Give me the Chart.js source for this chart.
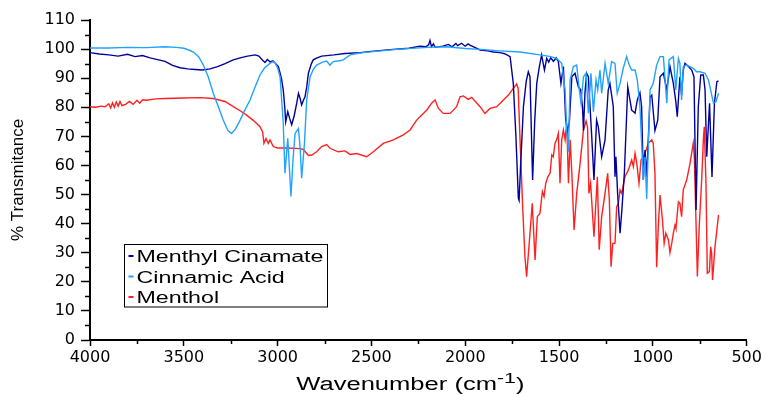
<!DOCTYPE html>
<html>
<head>
<meta charset="utf-8">
<script src="https://cdn.jsdelivr.net/npm/chart.js@4.4.1/dist/chart.umd.min.js"></script>
<style>
html, body { margin: 0; padding: 0; background: #fff; }
</style>
</head>
<body>
<canvas id="irChart" width="766" height="394"></canvas>
<script>
// series: wavenumber (cm-1) and % transmittance
const seriesNames = ['Menthyl Cinamate', 'Cinnamic Acid', 'Menthol'];
const seriesColors = ['#00009c', '#22a2ff', '#ff2020'];

const mcWn = [4000,3950,3900,3850,3800,3760,3720,3680,3640,3600,3560,3520,3480,3440,3400,3360,3320,3280,3240,3200,3160,3120,3100,3080,3067,3055,3040,3025,3010,2996,2980,2970,2962,2957,2946,2935,2925,2912,2898,2889,2880,2872,2862,2854,2845,2836,2820,2810,2790,2765,2700,2641,2560,2500,2400,2300,2241,2210,2195,2188,2180,2170,2160,2120,2090,2070,2050,2040,2020,2000,1985,1975,1950,1921,1880,1850,1815,1790,1761,1744,1730,1717,1713,1705,1690,1675,1664,1655,1641,1630,1619,1605,1593,1578,1566,1555,1545,1530,1515,1504,1490,1477,1465,1456,1445,1432,1415,1397,1385,1375,1370,1362,1353,1344,1326,1314,1300,1291,1273,1255,1238,1229,1211,1202,1197,1188,1175,1165,1152,1134,1113,1095,1083,1069,1060,1051,1042,1033,1015,1006,989,974,962,944,926,909,891,878,870,856,847,838,829,811,793,781,770,758,745,731,722,713,698,685,672,659,650];
const mcT = [98.8,98.3,98.0,97.6,98.2,97.4,97.8,97.0,96.4,95.8,94.4,93.6,93.2,93.0,92.8,93.2,94.0,95.0,96.2,97.0,97.6,98.0,97.6,96.2,95.4,96.4,95.6,96.0,95.0,94.0,90,86,80,75,78.5,76,74,77,81.5,84.8,83,80.8,82.5,83.6,87,91.7,95,96.3,97.0,97.6,98.0,98.5,98.8,99.2,99.8,100.3,101,100.8,101.5,103,100.8,101.8,100.6,101.0,101.6,100.8,101.9,101.2,102.0,101.0,101.8,101.4,100.6,99.7,99.4,99.0,98.8,98.4,97.4,88.2,70,48.7,48,60,80.2,89,92.2,90.5,55,75,88.2,94,98,92.8,96.8,95.5,97,95.8,97,95.7,88.2,94,76,71.5,75,90.5,91.7,87,86,80,72,85,91.7,90.5,70,55,75.6,73.3,63,68.8,86,88.2,80.2,56.1,63,50.4,36.7,45,57.4,87,79,78,82.5,85,80.2,55,65.3,56,83.6,84.2,72,75.6,90.5,91.7,86,94,88.2,82,76.8,90.5,84.2,92.8,95.1,94,92.8,90.5,44.7,80.2,91.1,91.1,86,63,81.4,56,81.4,88.8,89.1];

const caWn = [4000,3900,3800,3700,3600,3540,3500,3470,3449,3420,3396,3370,3343,3315,3290,3265,3245,3225,3200,3175,3147,3120,3094,3070,3041,3025,3014,3000,2987,2970,2961,2955,2946,2938,2929,2918,2907,2889,2880,2872,2857,2845,2827,2810,2792,2760,2739,2721,2703,2670,2650,2614,2545,2450,2350,2200,2099,2000,1900,1815,1708,1602,1550,1513,1486,1468,1459,1450,1441,1424,1406,1394,1383,1370,1356,1344,1330,1317,1303,1294,1282,1273,1255,1238,1220,1202,1190,1175,1158,1140,1126,1113,1095,1083,1069,1051,1042,1033,1015,998,980,962,944,926,914,891,878,864,856,847,838,820,785,767,749,722,704,677,664,650];
const caT = [100.4,100.4,100.6,100.5,100.8,100.6,100.3,99.6,99,97.3,94.5,90.5,84.8,80,75.6,72,71,72.5,75.6,79,82.5,87,91.1,93.5,95.1,95.7,95.3,93.5,90.5,74.5,57.3,62,69.3,60,49.3,62,71,72.7,66,55.6,67.6,82.5,90.5,93,94.5,95.5,95.9,94.5,95.7,96,96.3,98,98.8,99.4,100,100.6,100.8,100.2,99.8,99.4,99.0,98,97.5,96.8,95.1,86,72,64.7,89.4,94,94.5,87,81.4,90.5,91.7,78,91.7,78.5,89.4,86,92.8,84.8,95.1,88.2,95.7,95.1,84.8,88.2,93.4,97.4,94.5,92.8,92.8,89.4,80.2,55,63,48.5,86,88.2,94.5,97.4,97.4,81.4,96.3,97.4,86,96.8,95.1,82.5,94,94.5,93.4,92.2,92.2,91.7,89.4,81.4,81.9,84.8];

const meWn = [4000,3970,3940,3920,3900,3890,3880,3870,3860,3850,3840,3830,3810,3790,3770,3750,3735,3720,3700,3650,3600,3500,3414,3343,3280,3236,3200,3165,3130,3094,3080,3073,3062,3050,3041,3023,3000,2950,2880,2863,2836,2818,2792,2765,2739,2721,2677,2641,2614,2579,2525,2490,2437,2383,2330,2294,2259,2206,2179,2161,2143,2117,2081,2046,2028,2010,1984,1966,1921,1895,1868,1832,1797,1770,1744,1726,1718,1708,1694,1682,1673,1655,1643,1628,1616,1602,1589,1580,1571,1560,1548,1539,1531,1522,1513,1504,1495,1486,1477,1468,1459,1450,1441,1432,1420,1406,1388,1370,1356,1348,1341,1332,1314,1296,1286,1273,1255,1241,1232,1223,1214,1202,1193,1184,1175,1166,1149,1131,1113,1104,1095,1086,1074,1063,1051,1042,1024,1006,998,989,980,971,962,949,940,931,917,909,900,891,882,877,864,856,847,838,820,802,785,779,770,763,753,740,731,726,717,710,699,692,687,682,669,650];
const meT = [80.2,80.0,80.4,80.2,81.2,79.8,81.5,80.0,81.8,80.4,82.0,80.6,81.0,82.0,81.0,82.4,81.4,82.6,82.4,82.9,83.0,83.2,83.3,83,82,80.2,78.8,77.3,75.5,73.3,71.5,67.6,69.3,67.6,68.8,66.5,66,66,65.8,65.5,63.4,63.6,64.7,66.5,67.2,65.9,64.7,65,63.8,64.1,63,64.7,67.6,68.8,70.5,72.2,75.6,79,81.4,82.5,79.6,77.9,77.9,80.2,83.6,83.9,82.7,83.4,80.2,77.9,79.6,80.2,82.5,84.2,86.5,88,86.5,68.8,45.8,28.6,21.8,36.7,47,27.5,42.4,43.5,51,49.3,53.9,56.1,57.3,63.6,63,67.6,68.8,71,53.9,68.8,72.2,68.8,74.5,53.9,68.8,57.3,37.8,50.4,60.7,72.2,75.3,73,50.4,53.9,35.5,56.1,31,42.4,50.4,57.3,48.1,25.2,33.2,33.2,45.8,47,51.6,50.4,56.1,58.4,61.9,59.6,64.2,60.7,53.9,61.9,63,64.2,67.6,68.8,67.6,57.3,25,39,49.8,41.2,33.2,36.7,34.4,30,33,36.7,39.5,38.4,47.5,47,42.4,51.6,55,60.7,67.6,63,40.1,21.8,39,55,68.8,73.3,53.9,22.9,23.5,32,29.8,20.6,32,43];

const yMinor = [5,15,25,35,45,55,65,75,85,95,105];
const xMinor = [3750,3250,2750,2250,1750,1250,750];

function pairs(wn, t) {
    return wn.map((w, i) => ({ x: w, y: t[i] }));
}

const tickFont = { family: 'DejaVu Sans', size: 16 };

const extras = {
    id: 'extras',
    afterDraw(chart) {
        const ctx = chart.ctx;
        const xs = chart.scales.x;
        const ys = chart.scales.y;
        const area = chart.chartArea;
        ctx.save();

        // minor ticks
        ctx.strokeStyle = '#000';
        ctx.lineWidth = 1.5;
        ctx.beginPath();
        yMinor.forEach((v) => {
            const p = Math.round(ys.getPixelForValue(v)) + 0.5;
            ctx.moveTo(area.left - 5, p);
            ctx.lineTo(area.left, p);
        });
        xMinor.forEach((v) => {
            const p = Math.round(xs.getPixelForValue(v)) + 0.5;
            ctx.moveTo(p, area.bottom);
            ctx.lineTo(p, area.bottom + 4);
        });
        ctx.stroke();

        // legend box
        const lx = area.left + 34.5;
        const ly = area.top + 224.5;
        ctx.lineWidth = 1;
        ctx.strokeRect(lx, ly, 203, 62.5);
        ctx.font = '16px "Liberation Sans"';
        ctx.textBaseline = 'alphabetic';
        ctx.textAlign = 'left';
        seriesNames.forEach((name, i) => {
            const cy = ly + 11.5 + i * 20.5;
            ctx.strokeStyle = seriesColors[i];
            ctx.lineWidth = 2;
            ctx.beginPath();
            ctx.moveTo(lx + 4, cy);
            ctx.lineTo(lx + 9, cy);
            ctx.stroke();
            ctx.fillStyle = '#000';
            ctx.save();
            ctx.translate(lx + 12, cy + 6);
            ctx.scale(1.45, 1);
            ctx.fillText(name, 0, 0);
            ctx.restore();
        });

        // x axis title with superscript
        const sx = 1.42;
        ctx.fillStyle = '#000';
        ctx.font = '18px "Liberation Sans"';
        const main = 'Wavenumber (cm';
        const w1 = ctx.measureText(main).width * sx;
        ctx.font = '15px "Liberation Sans"';
        const w2 = ctx.measureText('-1').width * sx;
        ctx.font = '18px "Liberation Sans"';
        const w3 = ctx.measureText(')').width * sx;
        let x0 = (area.left + area.right) / 2 - 8 - (w1 + w2 + w3) / 2;
        const base = 390;
        const put = (txt, x, y, font) => {
            ctx.font = font;
            ctx.save();
            ctx.translate(x, y);
            ctx.scale(sx, 1);
            ctx.fillText(txt, 0, 0);
            ctx.restore();
        };
        put(main, x0, base, '18px "Liberation Sans"');
        put('-1', x0 + w1, base - 7, '15px "Liberation Sans"');
        put(')', x0 + w1 + w2, base, '18px "Liberation Sans"');

        ctx.restore();
    }
};

new Chart(document.getElementById('irChart'), {
    type: 'line',
    data: {
        datasets: [
            { label: seriesNames[0], data: pairs(mcWn, mcT), borderColor: seriesColors[0], order: 1 },
            { label: seriesNames[1], data: pairs(caWn, caT), borderColor: seriesColors[1], order: 0 },
            { label: seriesNames[2], data: pairs(meWn, meT), borderColor: seriesColors[2], order: 2 },
        ],
    },
    options: {
        responsive: false,
        animation: false,
        devicePixelRatio: 1,
        layout: { padding: { top: 20, right: 19.3, left: 0, bottom: 0 } },
        elements: {
            line: { borderWidth: 1.4, tension: 0, fill: false },
            point: { radius: 0 },
        },
        plugins: { legend: { display: false }, tooltip: { enabled: false } },
        scales: {
            x: {
                type: 'linear',
                reverse: true,
                min: 500,
                max: 4000,
                afterFit(scale) { scale.height = 54; },
                ticks: { stepSize: 500, color: '#000', font: tickFont, padding: 2, maxRotation: 0, callback: (v) => String(v) },
                grid: { drawOnChartArea: false, drawTicks: true, tickLength: 6, tickWidth: 1.5, tickColor: '#000' },
                border: { display: true, color: '#000', width: 2 },
            },
            y: {
                min: 0,
                max: 110,
                afterFit(scale) { scale.width = 90; },
                ticks: { stepSize: 10, color: '#000', font: tickFont, padding: 6, callback: (v) => String(v) },
                grid: { drawOnChartArea: false, drawTicks: true, tickLength: 9, tickWidth: 1.5, tickColor: '#000' },
                border: { display: true, color: '#000', width: 2 },
                title: {
                    display: true,
                    text: '% Transmitance',
                    color: '#000',
                    font: { family: 'Liberation Sans', size: 17 },
                    padding: { top: 8, bottom: 0 },
                },
            },
        },
    },
    plugins: [extras],
});
</script>
</body>
</html>
